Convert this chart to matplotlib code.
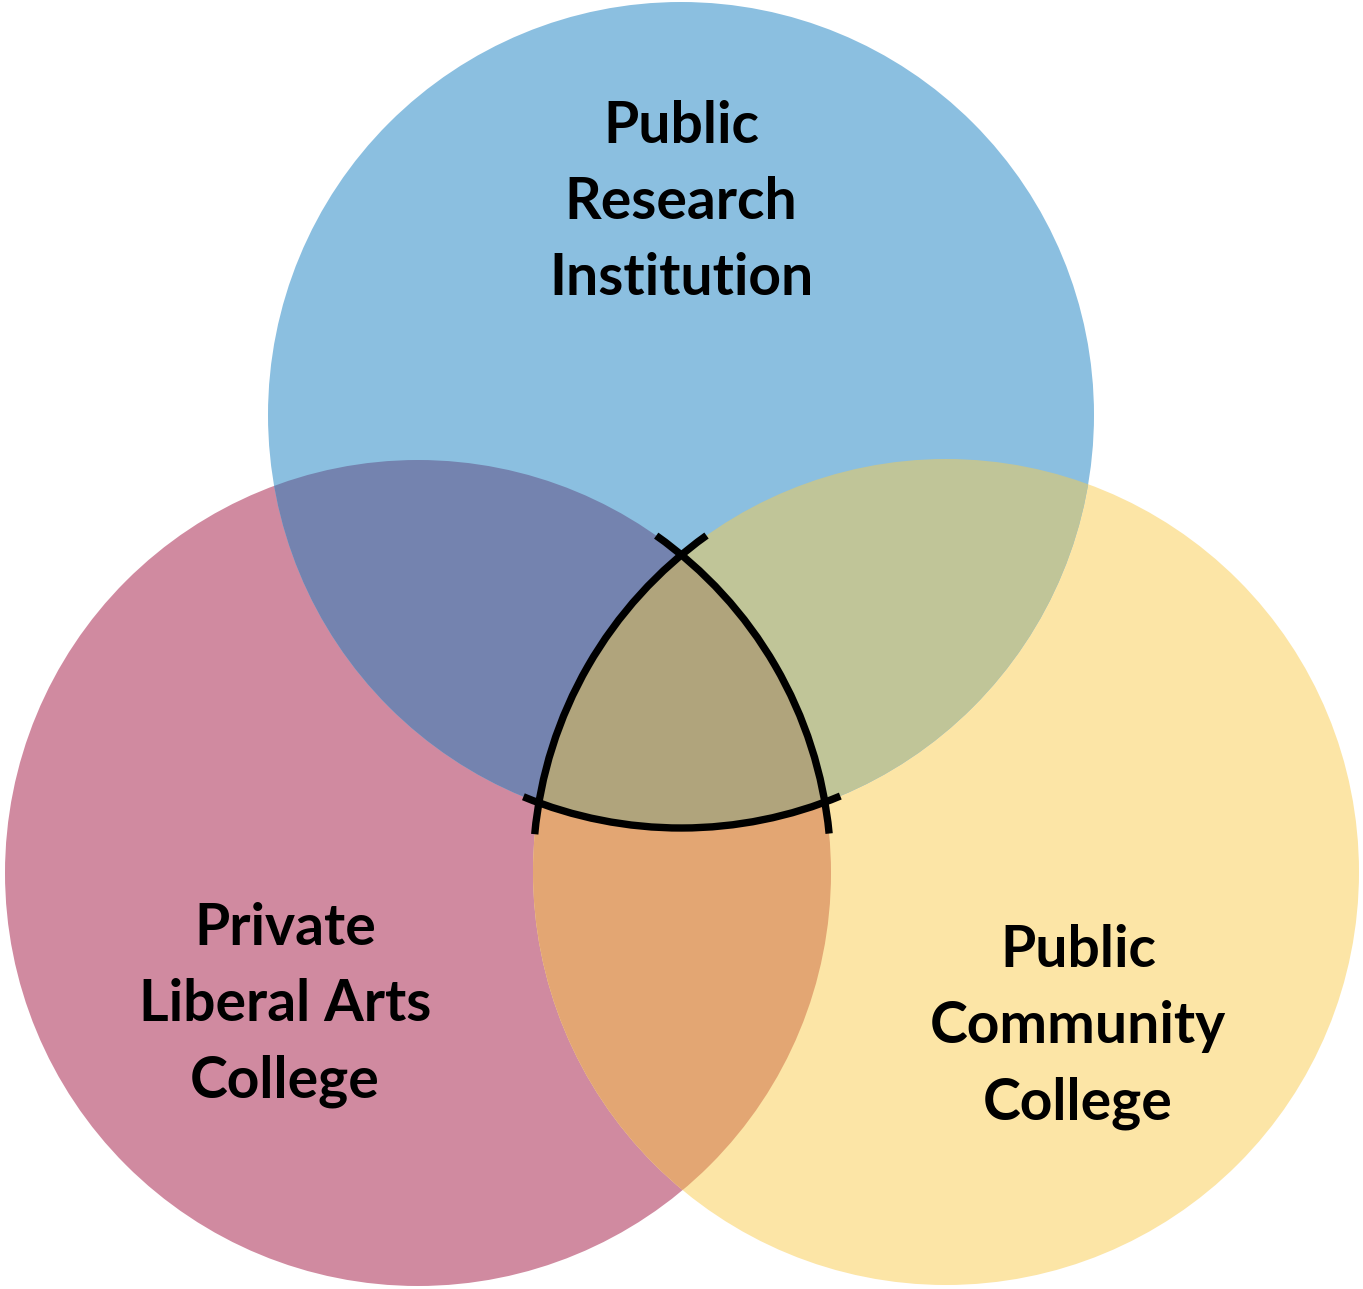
import numpy as np
import matplotlib.pyplot as plt
from matplotlib.patches import Circle, Arc, Polygon

# circle sets (pixel-ish units, y up)
names = ["Public\nResearch\nInstitution",
         "Private\nLiberal Arts\nCollege",
         "Public\nCommunity\nCollege"]
centers = [(681, 874), (418, 416), (946, 417)]
radius = 413
colors = ["#8BBFE0", "#D08AA0", "#FCE5A6"]
# overlap colours: (blue, pink), (blue, yellow), (pink, yellow), all three
pair_colors = {(0, 1): "#7483AF", (0, 2): "#C0C598", (1, 2): "#E3A673"}
center_color = "#B0A47C"
label_pos = [(681, 1146), (285, 344), (1078, 322)]  # baseline of first line
line_step = 76

W, H = 1363, 1289
fig = plt.figure(figsize=(W / 100, H / 100), dpi=100)
ax = fig.add_axes([0, 0, 1, 1])
ax.set_xlim(0, W)
ax.set_ylim(0, H)
ax.axis('off')


def make_circle(i, color):
    return Circle(centers[i], radius, facecolor=color, edgecolor='none',
                  transform=ax.transData)


# base circles
for i in [1, 2, 0]:
    ax.add_patch(make_circle(i, colors[i]))

# pairwise overlaps
for (i, j), c in pair_colors.items():
    p = make_circle(i, c)
    ax.add_patch(p)
    p.set_clip_path(make_circle(j, 'none'))


def intersections(i, j):
    (x0, y0), (x1, y1) = centers[i], centers[j]
    d = np.hypot(x1 - x0, y1 - y0)
    a = d / 2
    h = np.sqrt(radius ** 2 - a ** 2)
    mx, my = x0 + (x1 - x0) / 2, y0 + (y1 - y0) / 2
    ux, uy = (x1 - x0) / d, (y1 - y0) / d
    return [(mx - h * uy, my + h * ux), (mx + h * uy, my - h * ux)]


def inside(pt, k):
    return np.hypot(pt[0] - centers[k][0], pt[1] - centers[k][1]) < radius


# vertices of the triple region
vert = {}
for i, j, k in [(0, 1, 2), (0, 2, 1), (1, 2, 0)]:
    vert[(i, j)] = [p for p in intersections(i, j) if inside(p, k)][0]


def arc_angles(k):
    pts = [v for key, v in vert.items() if k in key]
    angs = [np.degrees(np.arctan2(p[1] - centers[k][1], p[0] - centers[k][0])) for p in pts]
    a1, a2 = angs
    if (a2 - a1) % 360 > 180:
        a1, a2 = a2, a1
    return a1, a1 + (a2 - a1) % 360


# fill triple region
boundary = []
for k in range(3):
    a1, a2 = arc_angles(k)
    t = np.radians(np.linspace(a1, a2, 80))
    boundary.append(np.column_stack([centers[k][0] + radius * np.cos(t),
                                     centers[k][1] + radius * np.sin(t)]))
boundary = np.vstack(boundary)
cx, cy = boundary.mean(axis=0)
order = np.argsort(np.arctan2(boundary[:, 1] - cy, boundary[:, 0] - cx))
ax.add_patch(Polygon(boundary[order], closed=True, facecolor=center_color,
                     edgecolor='none'))

# black outline arcs, slightly overrunning the corners
extend = {0: 2.3, 1: 4.4, 2: 4.4}
for k in range(3):
    a1, a2 = arc_angles(k)
    ax.add_patch(Arc(centers[k], 2 * radius, 2 * radius, theta1=a1 - extend[k],
                     theta2=a2 + extend[k], color='black', lw=5.3, capstyle='butt'))

# labels
for name, (x, y) in zip(names, label_pos):
    for n, line in enumerate(name.split("\n")):
        ax.text(x, y - n * line_step, line, ha='center', va='baseline',
                fontsize=41, fontweight='bold', family=['Lato', 'DejaVu Sans'],
                color='black')

fig.savefig("out.png", dpi=100)
